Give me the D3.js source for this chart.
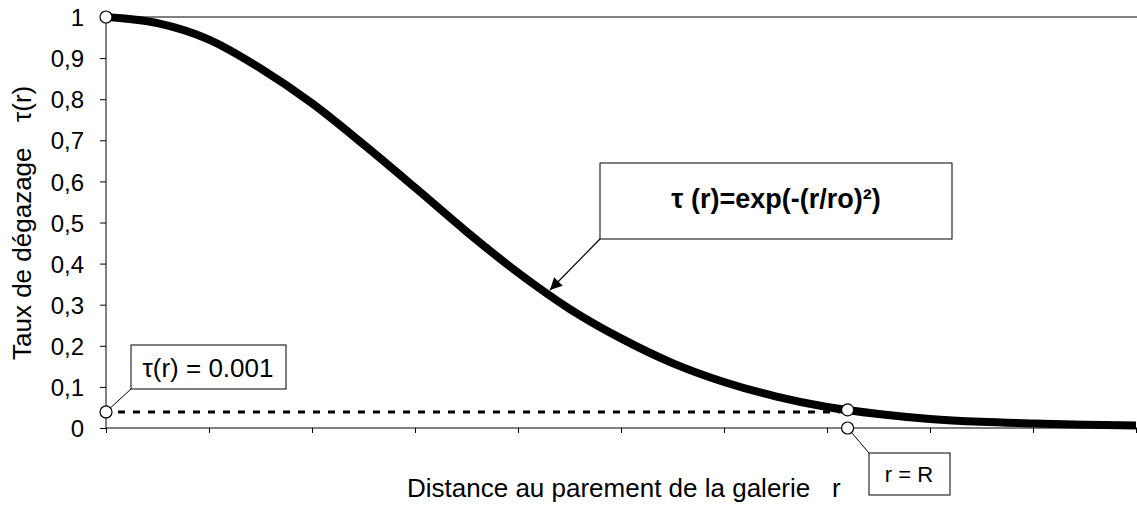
<!DOCTYPE html>
<html>
<head>
<meta charset="utf-8">
<script src="https://cdnjs.cloudflare.com/ajax/libs/d3/7.8.5/d3.min.js"></script>
<style>
  body { margin: 0; background: #fff; }
  text { font-family: "Liberation Sans", Arial, sans-serif; fill: #000; }
</style>
</head>
<body>
<div id="chart"></div>
<script>
var width = 1137;
var height = 506;

// distance r (axis units) and degassing rate tau(r)
var rValues   = [0, 0.5, 1, 1.5, 2, 2.5, 3, 3.5, 4, 4.5, 5, 5.5, 6, 6.5, 7, 7.5, 8, 8.5, 9, 9.5, 10];
var tauValues = [1, 0.985, 0.945, 0.875, 0.79, 0.69, 0.585, 0.478, 0.378, 0.29, 0.218, 0.158, 0.112, 0.077, 0.051, 0.034, 0.022, 0.015, 0.011, 0.008, 0.006];

var yTicks = [0, 0.1, 0.2, 0.3, 0.4, 0.5, 0.6, 0.7, 0.8, 0.9, 1];
var yTickLabels = ["0", "0,1", "0,2", "0,3", "0,4", "0,5", "0,6", "0,7", "0,8", "0,9", "1"];
var xTicks = [0, 1, 2, 3, 4, 5, 6, 7, 8, 9, 10];

// special points
var rR = 7.2;          // r = R
var tauR = 0.044;      // tau at R
var tauLimit = 0.039;  // level of the dotted line, tau(r) = 0.001

var curveData = rValues.map(function(r, i) { return { r: r, tau: tauValues[i] }; });

var xScale = d3.scaleLinear().domain([0, 10]).range([106, 1136]);
var yScale = d3.scaleLinear().domain([0, 1]).range([428, 17]);

var svg = d3.select("#chart")
    .append("svg")
    .attr("width", width)
    .attr("height", height);

svg.append("defs").append("marker")
    .attr("id", "arrow")
    .attr("viewBox", "0 0 10 10")
    .attr("refX", 10)
    .attr("refY", 5)
    .attr("markerWidth", 22)
    .attr("markerHeight", 12)
    .attr("markerUnits", "userSpaceOnUse")
    .attr("orient", "auto")
    .append("path")
    .attr("d", "M0,0 L10,5 L0,10 z")
    .attr("fill", "#000");

// top line at tau = 1
svg.append("line")
    .attr("x1", xScale(0)).attr("x2", width)
    .attr("y1", yScale(1)).attr("y2", yScale(1))
    .attr("stroke", "#000")
    .attr("stroke-width", 1);

// axes
var yAxis = d3.axisLeft(yScale)
    .tickValues(yTicks)
    .tickSize(6)
    .tickPadding(16)
    .tickFormat(function(d, i) { return yTickLabels[i]; });

var xAxis = d3.axisBottom(xScale)
    .tickValues(xTicks)
    .tickSize(5)
    .tickFormat("");

var yG = svg.append("g")
    .attr("transform", "translate(" + xScale(0) + ",0)")
    .call(yAxis);
yG.select(".domain").attr("d", "M0," + yScale(0) + "V" + yScale(1));
yG.selectAll("text")
    .style("font-size", "24px")
    .attr("dy", "0.36em");

var xG = svg.append("g")
    .attr("transform", "translate(0," + yScale(0) + ")")
    .call(xAxis);
xG.select(".domain").attr("d", "M" + xScale(0) + ",0H" + width);

svg.selectAll(".domain, .tick line").attr("stroke", "#000").attr("stroke-width", 1);

// dotted limit line
svg.append("line")
    .attr("x1", xScale(0) + 12).attr("x2", xScale(rR) - 8)
    .attr("y1", yScale(tauLimit)).attr("y2", yScale(tauLimit))
    .attr("stroke", "#000")
    .attr("stroke-width", 3)
    .attr("stroke-dasharray", "7,8");

// the curve
var line = d3.line()
    .x(function(d) { return xScale(d.r); })
    .y(function(d) { return yScale(d.tau); })
    .curve(d3.curveMonotoneX);

svg.append("path")
    .datum(curveData)
    .attr("d", line)
    .attr("fill", "none")
    .attr("stroke", "#000")
    .attr("stroke-width", 8);

// formula callout
svg.append("rect")
    .attr("x", 600).attr("y", 163)
    .attr("width", 352).attr("height", 76)
    .attr("fill", "#fff")
    .attr("stroke", "#000")
    .attr("stroke-width", 1);
svg.append("text")
    .attr("x", 776).attr("y", 208)
    .attr("text-anchor", "middle")
    .style("font-size", "27px")
    .style("font-weight", "bold")
    .text("\u03c4 (r)=exp(-(r/ro)\u00b2)");
svg.append("line")
    .attr("x1", 600).attr("y1", 239)
    .attr("x2", 550).attr("y2", 290)
    .attr("stroke", "#000")
    .attr("stroke-width", 1.2)
    .attr("marker-end", "url(#arrow)");

// tau(r) = 0.001 callout
svg.append("line")
    .attr("x1", xScale(0)).attr("y1", yScale(tauLimit))
    .attr("x2", 131).attr("y2", 389)
    .attr("stroke", "#000").attr("stroke-width", 1);
svg.append("rect")
    .attr("x", 131).attr("y", 345)
    .attr("width", 155).attr("height", 44)
    .attr("fill", "#fff")
    .attr("stroke", "#000")
    .attr("stroke-width", 1);
svg.append("text")
    .attr("x", 208).attr("y", 377)
    .attr("text-anchor", "middle")
    .style("font-size", "26px")
    .text("\u03c4(r) = 0.001");

// r = R callout
svg.append("line")
    .attr("x1", xScale(rR)).attr("y1", yScale(0))
    .attr("x2", 869).attr("y2", 453)
    .attr("stroke", "#000").attr("stroke-width", 1);
svg.append("rect")
    .attr("x", 869).attr("y", 453)
    .attr("width", 81).attr("height", 42)
    .attr("fill", "#fff")
    .attr("stroke", "#000")
    .attr("stroke-width", 1);
svg.append("text")
    .attr("x", 909).attr("y", 482)
    .attr("text-anchor", "middle")
    .style("font-size", "22px")
    .text("r = R");

// open circles
var points = [
    { r: 0, tau: 1 },
    { r: 0, tau: tauLimit },
    { r: rR, tau: tauR },
    { r: rR, tau: 0 }
];
svg.selectAll("circle.pt")
    .data(points)
    .enter()
    .append("circle")
    .attr("class", "pt")
    .attr("cx", function(d) { return xScale(d.r); })
    .attr("cy", function(d) { return yScale(d.tau); })
    .attr("r", 6)
    .attr("fill", "#fff")
    .attr("stroke", "#000")
    .attr("stroke-width", 1.2);

// axis titles
svg.append("text")
    .attr("transform", "translate(31,360) rotate(-90)")
    .style("font-size", "26px")
    .text("Taux de d\u00e9gazage");
svg.append("text")
    .attr("transform", "translate(31,122) rotate(-90)")
    .style("font-size", "26px")
    .text("\u03c4(r)");

svg.append("text")
    .attr("x", 407).attr("y", 497)
    .style("font-size", "26px")
    .text("Distance au parement de la galerie");
svg.append("text")
    .attr("x", 832).attr("y", 497)
    .style("font-size", "26px")
    .text("r");
</script>
</body>
</html>
